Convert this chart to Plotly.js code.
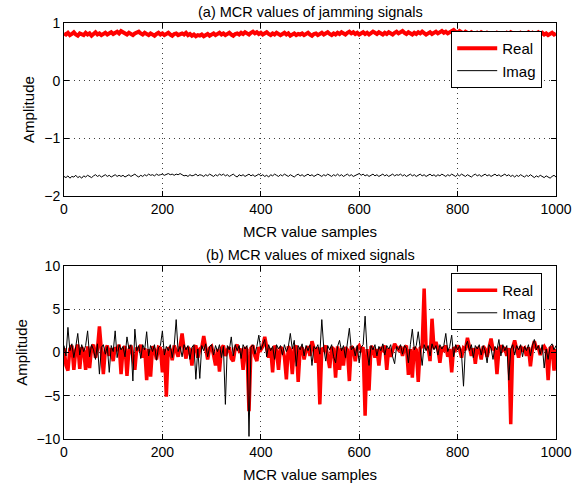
<!DOCTYPE html>
<html><head><meta charset="utf-8">
<script src="https://cdn.plot.ly/plotly-3.0.1.min.js"></script>
<style>html,body{margin:0;padding:0;background:#fff;}#chart{width:574px;height:487px;}</style>
</head><body><div id="chart"></div>
<script>
// sample spacing of the read-off values (every 4th MCR sample, 0..1000)
const sampleStep = 4;

// (a) jamming signals
const jamReal = [
0.82,0.80,0.83,0.79,0.81,0.84,0.80,0.78,0.82,0.81,
0.79,0.83,0.80,0.82,0.78,0.81,0.84,0.80,0.82,0.79,
0.81,0.83,0.80,0.82,0.84,0.81,0.83,0.85,0.82,0.86,
0.84,0.82,0.80,0.83,0.81,0.79,0.82,0.84,0.85,0.82,
0.80,0.83,0.81,0.79,0.82,0.80,0.78,0.81,0.83,0.80,
0.82,0.79,0.81,0.83,0.80,0.78,0.81,0.82,0.79,0.80,
0.82,0.80,0.83,0.79,0.81,0.78,0.80,0.77,0.79,0.78,
0.80,0.77,0.79,0.81,0.78,0.80,0.82,0.79,0.81,0.83,
0.80,0.82,0.79,0.81,0.83,0.80,0.78,0.81,0.82,0.80,
0.83,0.81,0.84,0.82,0.80,0.83,0.85,0.82,0.84,0.81,
0.83,0.80,0.82,0.84,0.81,0.79,0.82,0.80,0.83,0.81,
0.79,0.81,0.83,0.80,0.82,0.78,0.80,0.82,0.79,0.81,
0.80,0.82,0.79,0.81,0.83,0.80,0.78,0.81,0.82,0.79,
0.81,0.83,0.80,0.82,0.84,0.81,0.79,0.82,0.80,0.83,
0.81,0.84,0.82,0.80,0.83,0.85,0.82,0.84,0.81,0.83,
0.80,0.82,0.84,0.81,0.83,0.80,0.82,0.85,0.83,0.81,
0.84,0.82,0.80,0.83,0.81,0.84,0.82,0.80,0.83,0.85,
0.82,0.84,0.86,0.83,0.81,0.84,0.82,0.80,0.83,0.81,
0.84,0.82,0.85,0.83,0.80,0.82,0.84,0.81,0.83,0.85,
0.82,0.84,0.86,0.83,0.85,0.82,0.84,0.86,0.88,0.85,
0.83,0.86,0.84,0.82,0.85,0.83,0.81,0.84,0.82,0.80,
0.83,0.81,0.84,0.82,0.80,0.83,0.81,0.79,0.82,0.80,
0.83,0.81,0.79,0.82,0.80,0.83,0.81,0.84,0.82,0.80,
0.82,0.80,0.83,0.81,0.79,0.82,0.84,0.81,0.83,0.80,
0.82,0.84,0.81,0.83,0.80,0.82,0.79,0.81,0.83,0.80,0.82];
const jamImag = [
-1.66,-1.68,-1.65,-1.69,-1.66,-1.67,-1.64,-1.68,-1.66,-1.69,
-1.65,-1.67,-1.64,-1.66,-1.68,-1.65,-1.63,-1.66,-1.64,-1.67,
-1.65,-1.63,-1.66,-1.64,-1.67,-1.65,-1.63,-1.66,-1.64,-1.66,
-1.64,-1.67,-1.65,-1.63,-1.66,-1.64,-1.62,-1.65,-1.67,-1.64,
-1.66,-1.63,-1.65,-1.62,-1.64,-1.63,-1.65,-1.62,-1.64,-1.63,
-1.62,-1.64,-1.63,-1.61,-1.63,-1.62,-1.64,-1.62,-1.63,-1.61,
-1.63,-1.65,-1.64,-1.66,-1.63,-1.65,-1.64,-1.62,-1.65,-1.63,
-1.64,-1.66,-1.63,-1.65,-1.62,-1.64,-1.66,-1.63,-1.65,-1.62,
-1.64,-1.62,-1.65,-1.63,-1.66,-1.64,-1.62,-1.65,-1.67,-1.63,
-1.65,-1.63,-1.66,-1.64,-1.62,-1.65,-1.63,-1.66,-1.64,-1.62,
-1.65,-1.63,-1.66,-1.64,-1.67,-1.63,-1.65,-1.62,-1.64,-1.66,
-1.63,-1.65,-1.62,-1.64,-1.66,-1.63,-1.65,-1.67,-1.64,-1.62,
-1.65,-1.63,-1.66,-1.64,-1.62,-1.65,-1.63,-1.66,-1.64,-1.62,
-1.64,-1.66,-1.63,-1.65,-1.62,-1.64,-1.66,-1.63,-1.65,-1.62,
-1.65,-1.63,-1.66,-1.64,-1.62,-1.65,-1.63,-1.66,-1.64,-1.62,
-1.61,-1.64,-1.62,-1.65,-1.63,-1.66,-1.64,-1.62,-1.65,-1.63,
-1.66,-1.64,-1.62,-1.65,-1.63,-1.66,-1.64,-1.62,-1.65,-1.63,
-1.64,-1.62,-1.65,-1.63,-1.66,-1.64,-1.62,-1.65,-1.63,-1.66,
-1.64,-1.62,-1.65,-1.63,-1.66,-1.64,-1.62,-1.65,-1.63,-1.66,
-1.63,-1.65,-1.62,-1.64,-1.66,-1.63,-1.65,-1.62,-1.64,-1.66,
-1.63,-1.65,-1.62,-1.64,-1.66,-1.63,-1.65,-1.67,-1.64,-1.62,
-1.65,-1.63,-1.66,-1.64,-1.62,-1.65,-1.63,-1.66,-1.64,-1.62,
-1.65,-1.63,-1.66,-1.64,-1.62,-1.65,-1.63,-1.66,-1.64,-1.67,
-1.64,-1.66,-1.63,-1.65,-1.67,-1.64,-1.66,-1.63,-1.65,-1.68,
-1.65,-1.67,-1.64,-1.66,-1.68,-1.65,-1.67,-1.69,-1.66,-1.64,-1.67];

// (b) mixed signals
const mixReal = [
0.5,-1.5,-2.1,0.4,0.8,-2.0,0.3,0.9,-1.9,0.6,
0.2,-2.0,0.7,-1.8,0.5,0.9,-0.6,0.4,3.0,0.6,
-2.5,0.3,0.8,-0.4,0.5,-1.0,0.6,0.2,0.9,-2.5,
0.4,0.7,-2.7,0.3,0.8,-0.5,-2.0,0.6,0.2,0.9,
-0.6,0.5,-3.2,0.4,-2.8,0.7,0.3,-0.8,0.6,0.5,
-2.3,0.4,-5.1,0.6,0.3,-0.9,0.8,0.2,-0.5,0.7,
2.2,0.4,-0.7,0.6,0.3,-1.5,0.5,0.8,-0.6,0.4,
0.6,1.9,0.3,-0.8,0.5,0.7,-0.3,-1.5,0.4,-2.2,
0.5,0.8,-0.4,0.3,0.6,-0.7,-1.0,0.5,0.9,0.2,
0.4,-2.0,0.6,0.3,-6.8,0.5,0.8,-0.4,-1.0,0.6,
0.3,0.7,1.8,0.4,-0.6,0.5,-2.3,0.8,0.2,-2.0,
0.6,0.4,-0.5,-3.1,0.7,0.3,-2.5,0.5,0.8,-3.4,
0.4,0.6,-0.8,0.3,0.7,-0.4,1.3,0.5,-1.2,0.6,
-6.0,0.5,0.3,0.8,-0.5,-1.8,0.6,0.4,-2.9,0.7,
-2.0,0.5,-1.5,0.6,0.3,-3.3,0.7,0.4,-1.0,0.5,
0.8,0.3,0.6,-7.3,0.4,-4.4,0.7,0.5,-0.6,0.4,
-1.5,0.6,0.3,0.8,-2.0,0.5,-0.5,0.4,1.0,0.6,
0.3,0.7,-0.4,0.5,0.8,-2.6,0.4,-2.9,0.6,0.3,
-3.4,0.5,0.7,7.4,0.4,0.6,-1.0,3.9,0.5,1.2,
0.4,-1.2,0.6,0.3,0.8,-0.5,0.4,-2.3,0.6,0.3,
0.8,0.4,-0.6,0.5,0.3,1.7,0.6,-0.4,0.5,-1.3,
0.6,0.3,-0.8,0.7,0.4,-0.5,0.6,1.6,0.3,0.5,
-2.5,0.4,0.8,0.3,0.6,-0.4,0.5,-8.3,0.6,1.4,
0.4,-0.6,0.7,0.3,0.5,-0.4,0.6,-1.6,0.4,1.3,
0.5,0.6,-0.3,0.4,0.7,0.3,-3.2,0.5,0.6,-2.1,0.4];
const mixImag = [
0.8,-0.4,2.9,0.2,1.0,-0.6,0.7,2.2,-0.3,0.9,
0.1,0.8,2.5,-0.5,0.9,0.3,-0.8,1.0,-2.5,0.6,
0.9,-0.2,0.7,-2.3,0.8,0.1,2.5,-0.6,0.9,0.3,
0.7,-0.5,1.8,0.4,0.9,-3.3,2.7,0.2,0.8,-0.7,
0.9,0.3,2.4,-0.4,0.8,0.1,0.9,-0.9,0.6,0.8,
2.5,-0.3,0.7,0.2,0.9,-0.6,0.8,3.8,0.1,0.7,
-0.5,0.9,0.3,0.8,-0.8,0.6,0.9,-3.1,0.4,-3.0,
0.8,0.2,1.0,-0.5,0.7,0.9,-0.3,0.8,0.1,0.9,
-0.6,0.7,-6.0,0.8,0.3,1.8,-0.4,0.9,0.2,0.8,
-0.7,0.9,0.4,0.8,-9.7,0.6,0.9,-0.2,0.7,2.0,
0.3,0.8,1.5,-0.5,0.9,0.2,0.7,-0.8,0.9,0.4,
0.8,-0.3,0.9,0.1,0.7,2.2,0.4,1.4,-1.6,0.8,
0.3,1.0,-0.4,0.8,0.2,0.9,-1.5,0.7,0.4,0.9,
-0.2,3.8,0.5,-1.0,0.8,0.3,0.9,-0.5,-1.2,0.7,
1.4,0.2,0.8,-0.6,0.9,2.8,0.3,0.7,-0.4,0.8,
-1.2,0.6,0.9,4.2,0.2,-1.5,0.8,0.3,0.9,-0.4,
0.7,0.2,1.0,-0.3,0.8,0.4,0.9,-0.5,-1.3,0.7,
0.3,0.9,-0.2,0.8,0.5,-1.2,0.9,2.7,0.3,0.8,
2.4,0.4,-1.5,0.9,0.2,0.8,-0.4,1.0,0.3,0.8,
-0.3,0.9,0.4,0.8,2.2,0.1,0.7,2.0,-0.5,0.9,
0.3,0.8,-0.2,-3.9,0.7,1.3,0.2,0.9,-0.6,0.8,
0.4,0.9,-0.3,0.8,0.2,-1.2,0.9,0.5,-0.8,0.7,
0.3,1.5,-0.4,0.9,0.2,0.8,-3.2,0.4,0.9,-0.3,
0.8,0.3,0.9,-0.5,0.7,0.2,0.9,-0.4,0.8,1.5,
0.3,0.8,-0.2,0.9,-1.8,0.4,-0.8,0.7,1.0,0.3,0.8];

const seriesNames = ["Real", "Imag"];
const titleA = "(a) MCR values of jamming signals";
const titleB = "(b) MCR values of mixed signals";
const xLabel = "MCR value samples";
const yLabel = "Amplitude";

const samples = jamReal.map((_, i) => i * sampleStep);

const FONT = "Liberation Sans, Arial, Helvetica, sans-serif";
const blackLine = {color: "#000", width: 1};

const traces = [
  {x: samples, y: jamReal, name: seriesNames[0], type: "scatter", mode: "lines", line: {color: "rgb(255,0,0)", width: 4}, xaxis: "x", yaxis: "y", legend: "legend"},
  {x: samples, y: jamImag, name: seriesNames[1], type: "scatter", mode: "lines", line: blackLine, xaxis: "x", yaxis: "y", legend: "legend"},
  {x: samples, y: mixReal, name: seriesNames[0], type: "scatter", mode: "lines", line: {color: "rgb(255,0,0)", width: 3.5}, xaxis: "x2", yaxis: "y2", legend: "legend2"},
  {x: samples, y: mixImag, name: seriesNames[1], type: "scatter", mode: "lines", line: blackLine, xaxis: "x2", yaxis: "y2", legend: "legend2"}
];

function xa(anchor){
  return {anchor: anchor, domain: [0,1], range: [0,1000], dtick: 200, tick0: 0,
    ticks: "inside", ticklen: 5, tickcolor: "#000", mirror: "ticks", showline: true, linecolor: "#000", linewidth: 1,
    showgrid: true, gridcolor: "rgba(0,0,0,0.75)", griddash: "1px,4px", gridwidth: 1, zeroline: false,
    tickfont: {family: FONT, size: 14, color: "#000"},
    title: {text: xLabel, font: {family: FONT, size: 15, color: "#000"}, standoff: 10}};
}
function ya(anchor, dom, rng, dt){
  return {anchor: anchor, domain: dom, range: rng, dtick: dt,
    ticks: "inside", ticklen: 5, tickcolor: "#000", mirror: "ticks", showline: true, linecolor: "#000", linewidth: 1,
    showgrid: true, gridcolor: "rgba(0,0,0,0.75)", griddash: "1px,4px", gridwidth: 1, zeroline: false,
    tickfont: {family: FONT, size: 14, color: "#000"},
    title: {text: yLabel, font: {family: FONT, size: 15, color: "#000"}, standoff: 5}};
}
const legendStyle = {bgcolor: "#fff", bordercolor: "#000", borderwidth: 1,
  font: {family: FONT, size: 15, color: "#000"}, xanchor: "left", yanchor: "top",
  itemwidth: 40, tracegroupgap: 0};

const layout = {
  width: 574, height: 487,
  margin: {l: 64, r: 18, t: 23, b: 48},
  paper_bgcolor: "#fff", plot_bgcolor: "#fff",
  font: {family: FONT, color: "#000"},
  showlegend: true,
  xaxis: xa("y"),
  yaxis: ya("x", [0.584, 1], [-2, 1], 1),
  xaxis2: xa("y2"),
  yaxis2: ya("x2", [0, 0.416], [-10, 10], 5),
  legend: Object.assign({x: 0.787, y: 0.981}, legendStyle),
  legend2: Object.assign({x: 0.787, y: 0.399}, legendStyle),
  annotations: [
    {text: titleA, xref: "paper", yref: "paper", x: 0.5, y: 1, yanchor: "bottom", showarrow: false, yshift: 1,
     font: {family: FONT, size: 14.5, color: "#000"}},
    {text: titleB, xref: "paper", yref: "paper", x: 0.5, y: 0.416, yanchor: "bottom", showarrow: false, yshift: 1,
     font: {family: FONT, size: 14.5, color: "#000"}}
  ]
};

Plotly.newPlot("chart", traces, layout, {displayModeBar: false, staticPlot: true});
</script></body></html>
